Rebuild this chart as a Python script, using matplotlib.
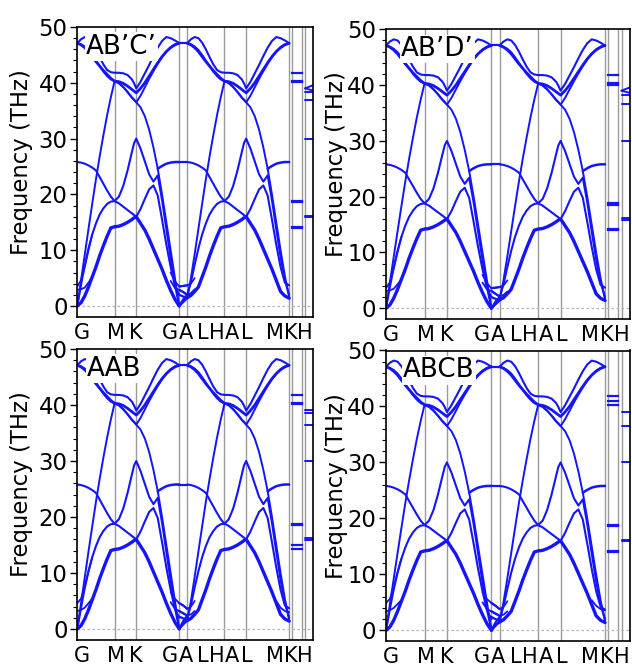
import numpy as np
import matplotlib.pyplot as plt
from matplotlib.ticker import MultipleLocator

plt.rcParams['font.family'] = ['DejaVu Sans']

BLUE = '#1414ff'
GRID = '#9a9a9a'
nan = np.nan

# ---------------- k-path (lengths in units of |GM|) ----------------
L_GM, L_MK, L_KG = 1.0, 0.582, 1.153
L_GA = 0.214
GAP1, L_LM, GAP2, L_KH = 0.08, 0.26, 0.088, 0.22

x_G1 = 0.0
x_M1 = x_G1 + L_GM
x_K1 = x_M1 + L_MK
x_G2 = x_K1 + L_KG
x_A1 = x_G2 + L_GA
x_L1 = x_A1 + L_GM
x_H1 = x_L1 + L_MK
x_A2 = x_H1 + L_KG
x_L2 = x_A2 + GAP1
x_M2 = x_L2 + L_LM
x_K2 = x_M2 + GAP2
x_H2 = x_K2 + L_KH

t_GM = np.array([0, .1, .2, .3, .4, .5, .6, .7, .8, .9, 1.0])
t_MK = np.array([.2, .4, .6, .8, .9, 1.0])
t_KG = np.array([.1, .2, .3, .4, .5, .6, .7, .8, .9, 1.0])
t_GA = np.array([0, .5, 1.0])
t_KH = np.array([0, .5, 1.0])

# ---------------- in-plane branches (THz), G-M | M-K | K-G ----------------
ZA = [0.0, 0.6, 1.8, 3.4, 5.2, 7.0, 9.0, 10.8, 12.5, 14.0, 14.2,
      14.3, 14.6, 15.0, 15.5, 15.8, 16.0,
      14.8, 13.6, 12.0, 10.2, 8.4, 6.6, 4.6, 2.8, 1.2, 0.0]
TA = [0.0, 3.8, 7.3, 10.3, 12.8, 14.8, 16.4, 17.5, 18.3, 18.7, 18.8,
      19.6, 21.5, 24.3, 27.6, 29.2, 30.0,
      28.2, 25.9, 23.6, 22.3, 23.4, 19.0, 13.8, 8.6, 3.8, 0.0]
LA = [0.0, 4.6, 9.2, 13.8, 18.3, 22.7, 26.8, 30.6, 34.2, 37.4, 40.3,
      39.9, 39.2, 38.4, 37.4, 37.0, 36.5,
      35.6, 34.0, 31.6, 28.4, 24.6, 20.0, 15.0, 10.0, 5.0, 0.0]
ZO = [25.8, 25.7, 25.5, 25.2, 24.8, 24.3, 23.1, 21.9, 20.7, 19.6, 18.8,
      18.4, 17.8, 17.2, 16.6, 16.3, 16.0,
      17.4, 19.2, 20.9, 21.6, 19.8, 15.5, 11.0, 7.0, 3.6, 2.0]
ZO_FLAT = [nan] * 21 + [24.6, 25.1, 25.5, 25.7, 25.8, 25.8]
OPT1 = [47.1, 47.8, 48.2, 48.0, 47.2, 46.0, 44.6, 43.3, 42.3, 41.9, 41.8,
        41.8, 41.7, 41.4, 40.6, 39.9, 39.0,
        40.2, 41.7, 43.2, 44.8, 46.3, 47.5, 48.2, 48.0, 47.6, 47.1]
OPT2 = [47.1, 46.8, 46.3, 45.6, 44.7, 43.8, 43.0, 42.2, 41.5, 40.8, 40.3,
        40.2, 39.9, 39.4, 38.8, 38.5, 38.2,
        39.0, 40.0, 41.2, 42.4, 43.6, 44.7, 45.6, 46.3, 46.8, 47.1]
OPT3 = [47.1, 46.9, 46.5, 45.9, 45.0, 44.0, 43.0, 42.0, 41.2, 40.6, 40.3,
        40.0, 39.3, 38.3, 37.3, 36.9, 36.5,
        37.7, 39.2, 40.7, 42.1, 43.4, 44.6, 45.6, 46.4, 46.9, 47.1]

branches = {'ZA': ZA, 'TA': TA, 'LA': LA, 'ZO': ZO, 'ZO_FLAT': ZO_FLAT,
            'OPT1': OPT1, 'OPT2': OPT2, 'OPT3': OPT3}
branch_lw = {'ZA': 2.4, 'TA': 1.5, 'LA': 1.4, 'ZO': 1.5, 'ZO_FLAT': 1.8,
             'OPT1': 1.5, 'OPT2': 2.0, 'OPT3': 1.4}

# values near A on the kz = pi/c plane (A-L-H-A) that differ from G-M-K-G
A_start = {'ZA': [1.5, 1.9, 2.6], 'TA': [2.0, 4.3, 7.4], 'LA': [1.4, 5.0, 9.3]}
A_end = {'ZA': [2.6, 1.8, 1.4], 'TA': [8.8, 4.6, 2.0],
         'LA': [10.0, 5.4, 1.6], 'ZO': [7.0, 4.2, 3.7]}

# ---------------- stacking-dependent data ----------------
panels = [
    dict(name='AB\u2019C\u2019',
         GA=[[47.1, 47.1, 47.1], [25.8, 25.8, 25.8], [0.0, 0.9, 1.5],
             [0.0, 1.2, 2.0], [0.0, 0.7, 1.4], [2.0, 1.7, 1.5],
             [2.9, 2.5, 2.0], [3.5, 3.6, 3.7]],
         low_left=[[2.9, 3.0, 3.3, 4.2, 5.2], [3.5, 4.6, 7.0, 10.0, 12.8]],
         low_mid=[[6.0, 4.4, 3.5, 3.6, 3.7, 4.0, 5.0],
                  [4.5, 3.2, 2.9, 2.5, 2.0, 2.3, 3.0]],
         low_right=[],
         LM=[41.8, 40.3, 40.1, 18.8, 18.6, 14.2, 14.0],
         KH=[[39.0, 39.3, 39.6], [39.0, 38.8, 38.6], [38.3, 38.3, 38.3],
             [36.9, 36.9, 36.9], [30.0, 30.0, 30.0], [15.9, 15.9, 15.9],
             [16.1, 16.1, 16.1]]),
    dict(name='AB\u2019D\u2019',
         GA=[[47.1, 47.1, 47.1], [25.8, 25.8, 25.8], [0.0, 0.9, 1.5],
             [0.0, 1.2, 2.0], [0.0, 0.7, 1.4], [2.0, 1.7, 1.5],
             [3.1, 2.6, 2.1], [3.6, 3.7, 3.8]],
         low_left=[[3.1, 3.2, 3.5, 4.3, 5.2], [3.6, 4.7, 7.1, 10.1, 12.8]],
         low_mid=[[6.0, 4.5, 3.6, 3.7, 3.8, 4.1, 5.0],
                  [4.6, 3.4, 3.1, 2.6, 2.1, 2.4, 3.0]],
         low_right=[],
         LM=[41.8, 40.3, 40.1, 18.8, 18.6, 14.2, 14.0],
         KH=[[39.0, 39.3, 39.6], [39.0, 38.8, 38.6], [38.3, 38.3, 38.3],
             [36.7, 36.7, 36.7], [30.0, 30.0, 30.0], [15.9, 15.9, 15.9],
             [16.1, 16.1, 16.1]]),
    dict(name='AAB',
         GA=[[47.1, 47.1, 47.1], [25.8, 25.8, 25.8], [0.0, 1.0, 1.6],
             [0.0, 1.4, 2.4], [0.0, 0.8, 1.5], [2.2, 1.9, 1.6],
             [3.2, 2.8, 2.4], [4.6, 4.2, 3.6]],
         low_left=[[3.2, 3.4, 3.8, 4.6, 5.4], [4.6, 5.4, 7.6, 10.3, 12.8]],
         low_mid=[[6.6, 5.4, 4.6, 4.2, 3.6, 4.0, 5.0],
                  [4.8, 3.6, 3.2, 2.8, 2.4, 2.6, 3.2]],
         low_right=[[5.0, 3.8, 3.2, 3.0]],
         LM=[41.8, 40.3, 40.1, 18.8, 18.6, 15.0, 14.2],
         KH=[[39.1, 39.1, 39.1], [38.5, 38.5, 38.5], [36.5, 36.5, 36.5],
             [30.0, 30.0, 30.0], [15.9, 15.9, 15.9], [16.2, 16.2, 16.2]]),
    dict(name='ABCB',
         GA=[[47.1, 47.1, 47.1], [25.8, 25.8, 25.8], [0.0, 1.0, 1.6],
             [0.0, 1.4, 2.4], [0.0, 0.8, 1.5], [2.4, 2.0, 1.7],
             [3.4, 3.0, 2.6], [4.9, 4.4, 3.8]],
         low_left=[[3.4, 3.6, 4.0, 4.7, 5.4], [4.9, 5.6, 7.8, 10.4, 12.8]],
         low_mid=[[6.8, 5.6, 4.9, 4.4, 3.8, 4.2, 5.2],
                  [5.0, 3.8, 3.4, 3.0, 2.6, 2.8, 3.4]],
         low_right=[[5.4, 4.4, 3.8, 3.6]],
         LM=[41.8, 41.0, 40.3, 18.8, 18.6, 14.2, 14.0],
         KH=[[39.0, 39.0, 39.0], [36.6, 36.6, 36.6], [30.0, 30.0, 30.0],
             [15.9, 15.9, 15.9], [16.1, 16.1, 16.1]]),
]

tick_names = ['G', 'M', 'K', 'G', 'A', 'L', 'H', 'A', 'L', 'M', 'K', 'H']
tick_pos = [0.126, 1.038, 1.574, 2.485, 2.914, 3.37, 3.745, 4.147, 4.55,
            5.295, 5.718, 6.11]

# axes rectangles in pixels: left, right, top, bottom
FW, FH = 632, 666
rects = [(77.3, 313.3, 27.0, 316.6), (386.0, 630.0, 29.3, 318.9),
         (77.3, 313.3, 349.0, 639.6), (386.0, 630.0, 350.5, 641.0)]
name_x = [0.037, 0.061, 0.041, 0.07]
ylabel_xy = [(22, 162), (337, 164), (22, 484), (337, 486)]

fig = plt.figure(figsize=(FW / 100, FH / 100), dpi=100)


def plane_k(x0):
    return np.concatenate([x0 + t_GM * L_GM,
                           x0 + L_GM + t_MK * L_MK,
                           x0 + L_GM + L_MK + t_KG * L_KG])


def line(ax, x, y, lw=1.4):
    ax.plot(x, y, color=BLUE, lw=lw, solid_capstyle='round',
            solid_joinstyle='round', zorder=2)


for p, (l, r, t, b), nx, (lx, ly) in zip(panels, rects, name_x, ylabel_xy):
    ax = fig.add_axes([l / FW, (FH - b) / FH, (r - l) / FW, (b - t) / FH])

    # high-symmetry lines and zero reference
    for xv in [x_M1, x_K1, x_G2, x_A1, x_L1, x_H1, x_A2, x_L2, x_M2, x_K2]:
        ax.axvline(xv, color=GRID, lw=1.0, zorder=1)
    ax.axhline(0, color='#b5b5b5', lw=0.9, ls=(0, (2, 2)), zorder=1)

    kG = plane_k(x_G1)
    kA = plane_k(x_A1)
    for key, vals in branches.items():
        v = np.array(vals, dtype=float)
        line(ax, kG, v, branch_lw[key])
        va = v.copy()
        if key in A_start:
            n = len(A_start[key])
            va[:n] = A_start[key]
        if key in A_end:
            n = len(A_end[key])
            va[-n:] = A_end[key]
        line(ax, kA, va, branch_lw[key])

    # G-A
    kGA = x_G2 + t_GA * L_GA
    for vals in p['GA']:
        line(ax, kGA, vals, 1.6)

    # interlayer modes near G and A
    k_left = x_G1 + t_GM[:5] * L_GM
    for vals in p['low_left']:
        line(ax, k_left, vals, 1.3)
    k_mid = np.concatenate([x_K1 + np.array([.8, .9, 1.0]) * L_KG,
                            x_G2 + np.array([.5, 1.0]) * L_GA,
                            x_A1 + np.array([.1, .2]) * L_GM])
    for vals in p['low_mid']:
        line(ax, k_mid, vals, 1.3)
    k_right = x_H1 + np.array([.7, .8, .9, 1.0]) * L_KG
    for vals in p['low_right']:
        line(ax, k_right, vals, 1.3)

    # L-M and K-H
    for v in p['LM']:
        ax.plot([x_L2, x_M2], [v, v], color=BLUE, lw=1.6, zorder=2)
    kKH = x_K2 + t_KH * L_KH
    for vals in p['KH']:
        line(ax, kKH, vals, 1.4)

    ax.set_xlim(0, x_H2)
    ax.set_ylim(-1.9, 50)
    ax.yaxis.set_major_locator(MultipleLocator(10))
    ax.yaxis.set_minor_locator(MultipleLocator(2))
    ax.tick_params(axis='y', which='major', direction='out', length=5,
                   width=1.0, labelsize=16.4, pad=2)
    ax.tick_params(axis='y', which='minor', direction='out', length=3,
                   width=0.8)
    ax.set_xticks(tick_pos)
    ax.set_xticklabels(tick_names)
    ax.tick_params(axis='x', length=0, labelsize=15, pad=4.5)
    for s in ax.spines.values():
        s.set_linewidth(1.2)

    ax.text(nx, 0.932, p['name'], transform=ax.transAxes, ha='left',
            va='center', fontsize=18.8, zorder=5,
            bbox=dict(facecolor='white', edgecolor='none', pad=1.0))

    fig.text(lx / FW, 1 - ly / FH, 'Frequency (THz)', rotation=90,
             ha='center', va='center', fontsize=16.4)

fig.savefig('out.png', dpi=100)
